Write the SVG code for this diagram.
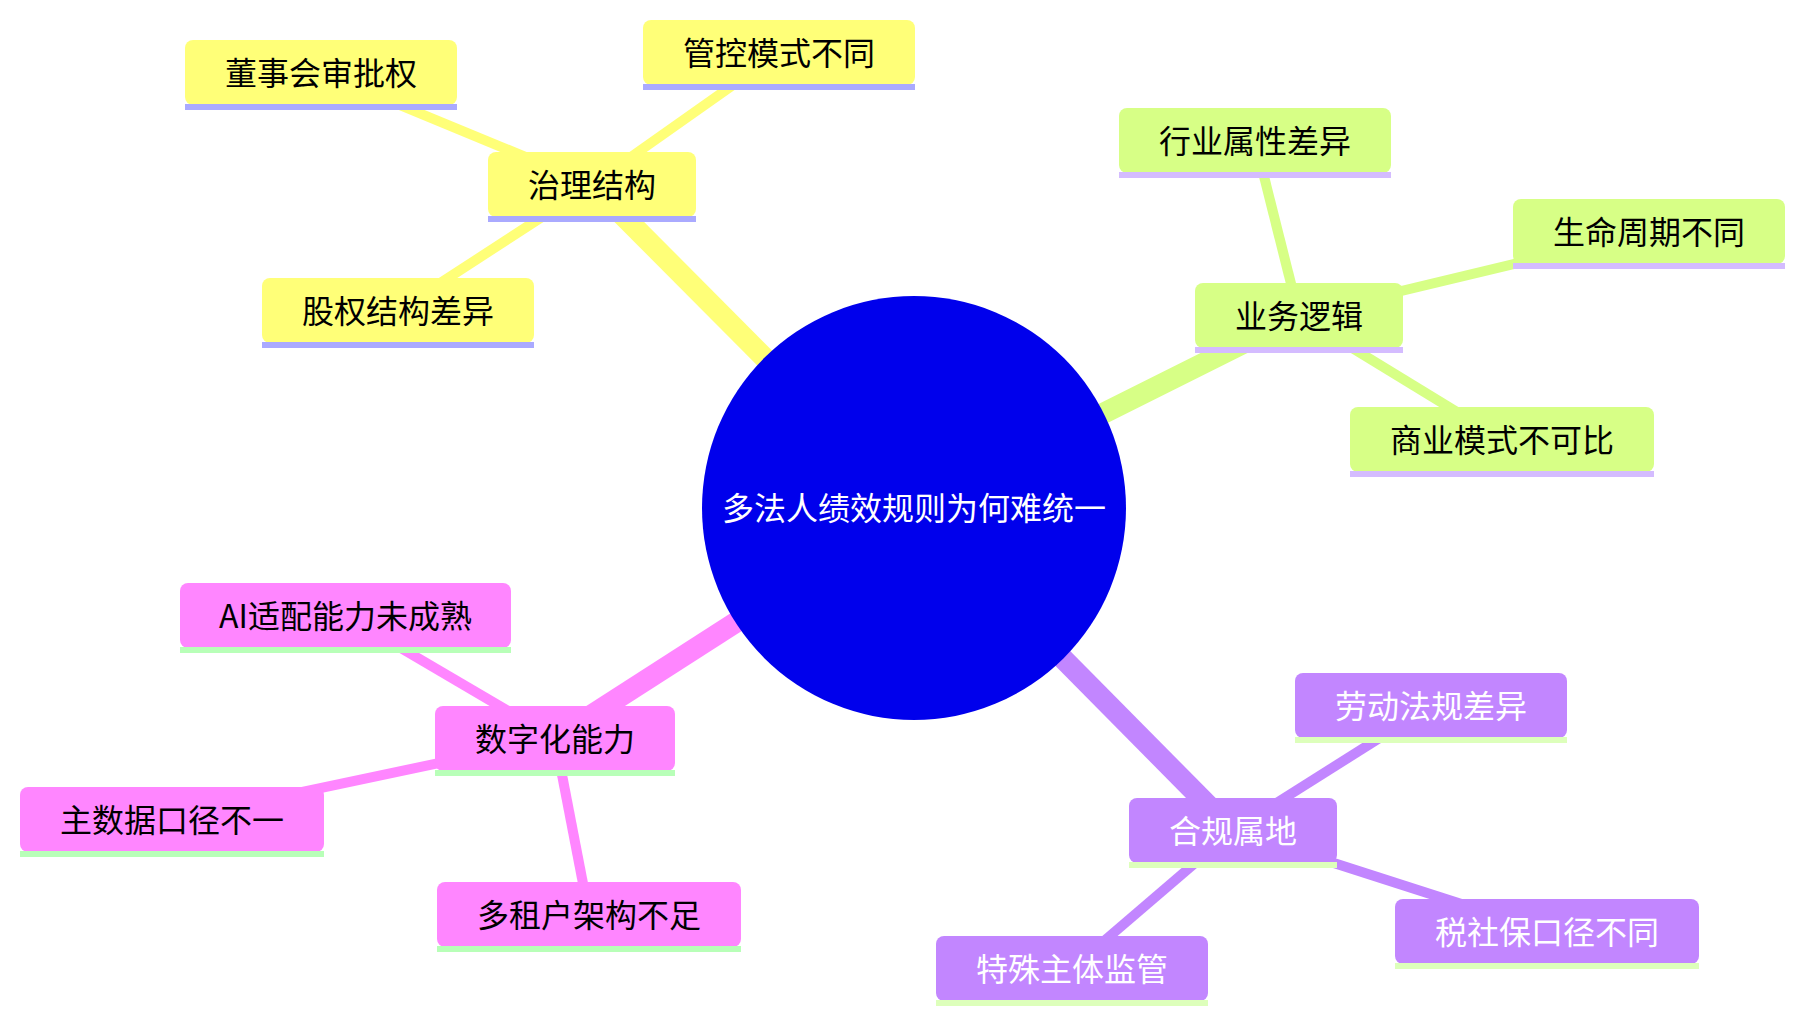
<svg xmlns="http://www.w3.org/2000/svg" width="1804" height="1023" viewBox="0 0 1804 1023">
<style>
text{font-family:"Noto Sans CJK SC","Noto Sans CJK JP",sans-serif;font-size:32px;text-anchor:middle}
.e0{fill:none;stroke-width:21;stroke-linecap:butt}
.e1{fill:none;stroke-width:10;stroke-linecap:butt}
.s1{stroke:#ffff78}.s2{stroke:#d7ff86}.s3{stroke:#ff86ff}.s4{stroke:#c286ff}
.n1 rect.b{fill:#ffff78}.n1 rect.u{fill:#aaaaff}.n1 text{fill:#000}
.n2 rect.b{fill:#d7ff86}.n2 rect.u{fill:#d4bcff}.n2 text{fill:#000}
.n3 rect.b{fill:#ff86ff}.n3 rect.u{fill:#b8ffb8}.n3 text{fill:#000}
.n4 rect.b{fill:#c286ff}.n4 rect.u{fill:#ddffbb}.n4 text{fill:#fff}
</style>
<rect width="1804" height="1023" fill="#fff"/>
<g id="connectors">
<line class="e0 s1" x1="914" y1="508" x2="592" y2="184.5"/>
<line class="e0 s2" x1="914" y1="508" x2="1299" y2="315.5"/>
<line class="e0 s3" x1="914" y1="508" x2="555" y2="738.5"/>
<line class="e0 s4" x1="914" y1="508" x2="1233" y2="830.5"/>
<line class="e1 s1" x1="592" y1="184.5" x2="321" y2="72.5"/>
<line class="e1 s1" x1="592" y1="184.5" x2="779" y2="52.5"/>
<line class="e1 s1" x1="592" y1="184.5" x2="398" y2="310.5"/>
<line class="e1 s2" x1="1299" y1="315.5" x2="1255" y2="140.5"/>
<line class="e1 s2" x1="1299" y1="315.5" x2="1649" y2="231.5"/>
<line class="e1 s2" x1="1299" y1="315.5" x2="1502" y2="439.5"/>
<line class="e1 s3" x1="555" y1="738.5" x2="345.5" y2="615.5"/>
<line class="e1 s3" x1="555" y1="738.5" x2="172" y2="819.5"/>
<line class="e1 s3" x1="555" y1="738.5" x2="589" y2="914.5"/>
<line class="e1 s4" x1="1233" y1="830.5" x2="1431" y2="705.5"/>
<line class="e1 s4" x1="1233" y1="830.5" x2="1547" y2="931.5"/>
<line class="e1 s4" x1="1233" y1="830.5" x2="1072" y2="968.5"/>
</g>
<g id="root">
<circle cx="914" cy="508" r="212" fill="#0000ec"/>
<text x="914" y="520" fill="#fff">多法人绩效规则为何难统一</text>
</g>
<g id="n-governance" class="n1"><rect class="b" x="488" y="152" width="208" height="65" rx="8"/><rect class="u" x="488" y="216" width="208" height="6"/><text x="592" y="196.5">治理结构</text></g>
<g id="n-board" class="n1"><rect class="b" x="185" y="40" width="272" height="65" rx="8"/><rect class="u" x="185" y="104" width="272" height="6"/><text x="321" y="84.5">董事会审批权</text></g>
<g id="n-control" class="n1"><rect class="b" x="643" y="20" width="272" height="65" rx="8"/><rect class="u" x="643" y="84" width="272" height="6"/><text x="779" y="64.5">管控模式不同</text></g>
<g id="n-equity" class="n1"><rect class="b" x="262" y="278" width="272" height="65" rx="8"/><rect class="u" x="262" y="342" width="272" height="6"/><text x="398" y="322.5">股权结构差异</text></g>
<g id="n-business" class="n2"><rect class="b" x="1195" y="283" width="208" height="65" rx="8"/><rect class="u" x="1195" y="347" width="208" height="6"/><text x="1299" y="327.5">业务逻辑</text></g>
<g id="n-industry" class="n2"><rect class="b" x="1119" y="108" width="272" height="65" rx="8"/><rect class="u" x="1119" y="172" width="272" height="6"/><text x="1255" y="152.5">行业属性差异</text></g>
<g id="n-lifecycle" class="n2"><rect class="b" x="1513" y="199" width="272" height="65" rx="8"/><rect class="u" x="1513" y="263" width="272" height="6"/><text x="1649" y="243.5">生命周期不同</text></g>
<g id="n-model" class="n2"><rect class="b" x="1350" y="407" width="304" height="65" rx="8"/><rect class="u" x="1350" y="471" width="304" height="6"/><text x="1502" y="451.5">商业模式不可比</text></g>
<g id="n-digital" class="n3"><rect class="b" x="435" y="706" width="240" height="65" rx="8"/><rect class="u" x="435" y="770" width="240" height="6"/><text x="555" y="750.5">数字化能力</text></g>
<g id="n-ai" class="n3"><rect class="b" x="180" y="583" width="331" height="65" rx="8"/><rect class="u" x="180" y="647" width="331" height="6"/><text x="345.5" y="627.5">AI适配能力未成熟</text></g>
<g id="n-masterdata" class="n3"><rect class="b" x="20" y="787" width="304" height="65" rx="8"/><rect class="u" x="20" y="851" width="304" height="6"/><text x="172" y="831.5">主数据口径不一</text></g>
<g id="n-tenant" class="n3"><rect class="b" x="437" y="882" width="304" height="65" rx="8"/><rect class="u" x="437" y="946" width="304" height="6"/><text x="589" y="926.5">多租户架构不足</text></g>
<g id="n-compliance" class="n4"><rect class="b" x="1129" y="798" width="208" height="65" rx="8"/><rect class="u" x="1129" y="862" width="208" height="6"/><text x="1233" y="842.5">合规属地</text></g>
<g id="n-labor" class="n4"><rect class="b" x="1295" y="673" width="272" height="65" rx="8"/><rect class="u" x="1295" y="737" width="272" height="6"/><text x="1431" y="717.5">劳动法规差异</text></g>
<g id="n-tax" class="n4"><rect class="b" x="1395" y="899" width="304" height="65" rx="8"/><rect class="u" x="1395" y="963" width="304" height="6"/><text x="1547" y="943.5">税社保口径不同</text></g>
<g id="n-special" class="n4"><rect class="b" x="936" y="936" width="272" height="65" rx="8"/><rect class="u" x="936" y="1000" width="272" height="6"/><text x="1072" y="980.5">特殊主体监管</text></g>
</svg>
